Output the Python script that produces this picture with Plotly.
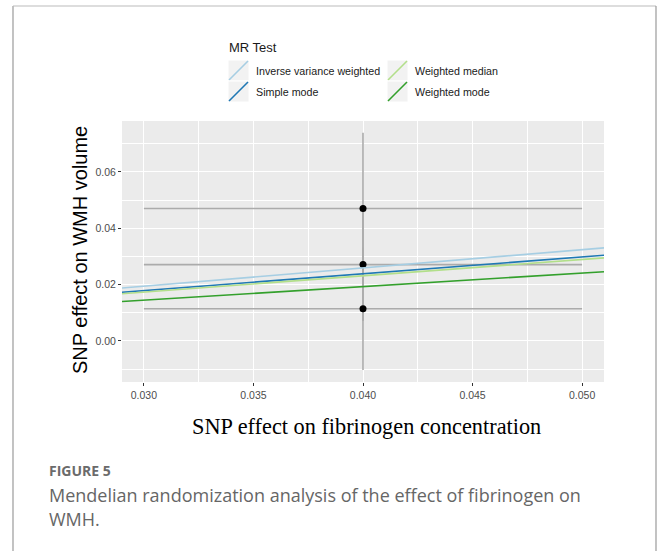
import plotly.graph_objects as go

# ---- data ----
snp_x = [0.040, 0.040, 0.040]
snp_x_se = [0.010, 0.010, 0.010]
snp_y = [0.0470, 0.0271, 0.0114]
snp_y_se = [0.0269, 0.0200, 0.0217]

methods = ["Inverse variance weighted", "Simple mode", "Weighted median", "Weighted mode"]
slopes = [0.648, 0.596, 0.578, 0.482]
colors = ["#A6CEE3", "#1F78B4", "#B2DF8A", "#33A02C"]

x_range = [0.029, 0.051]
y_range = [-0.0146, 0.0781]
x_ticks = [0.030, 0.035, 0.040, 0.045, 0.050]
x_ticklabels = ["0.030", "0.035", "0.040", "0.045", "0.050"]
y_ticks = [0.00, 0.02, 0.04, 0.06]
y_ticklabels = ["0.00", "0.02", "0.04", "0.06"]

W, H = 657, 551
def px(x): return x / W
def py(y): return 1 - y / H

fig = go.Figure()

# error bars + points
fig.add_trace(go.Scatter(
    x=snp_x, y=snp_y, mode="markers",
    marker=dict(color="black", size=7),
    error_x=dict(type="data", array=snp_x_se, color="#ABABAB", thickness=1.6, width=0),
    error_y=dict(type="data", array=snp_y_se, color="#ABABAB", thickness=1.6, width=0),
    showlegend=False, hoverinfo="skip", cliponaxis=False,
))

# MR lines through origin
for m, s, c in zip(methods, slopes, colors):
    fig.add_trace(go.Scatter(
        x=x_range, y=[s * x_range[0], s * x_range[1]], mode="lines",
        line=dict(color=c, width=1.6), name=m, showlegend=False,
    ))

shapes = []
annotations = []

# frame (open at bottom)
fc = "#9A9A9A"
shapes += [
    dict(type="line", xref="paper", yref="paper", x0=px(13), x1=px(13), y0=0, y1=py(6), line=dict(color=fc, width=1.2)),
    dict(type="line", xref="paper", yref="paper", x0=px(13), x1=px(656), y0=py(6), y1=py(6), line=dict(color="#BBBBBB", width=1.2)),
    dict(type="line", xref="paper", yref="paper", x0=px(656), x1=px(656), y0=0, y1=py(6), line=dict(color=fc, width=1.2)),
]

# manual legend
annotations.append(dict(text="MR Test", x=px(227), y=py(47), xref="paper", yref="paper",
                        xanchor="left", yanchor="middle", showarrow=False,
                        font=dict(family="Liberation Sans, Arial", size=13, color="#1A1A1A")))
key_pos = [(228, 60), (228, 81), (387, 60), (387, 81)]
for (kx, ky), m, c in zip(key_pos, methods, colors):
    shapes.append(dict(type="rect", xref="paper", yref="paper",
                       x0=px(kx), x1=px(kx + 21), y0=py(ky + 21), y1=py(ky),
                       fillcolor="#F2F2F2", line=dict(color="white", width=1)))
    shapes.append(dict(type="line", xref="paper", yref="paper",
                       x0=px(kx + 1), x1=px(kx + 20), y0=py(ky + 20), y1=py(ky + 1),
                       line=dict(color=c, width=1.6)))
    annotations.append(dict(text=m, x=px(kx + 26), y=py(ky + 11), xref="paper", yref="paper",
                            xanchor="left", yanchor="middle", showarrow=False,
                            font=dict(family="Liberation Sans, Arial", size=10.7, color="#1A1A1A")))

# axis titles
annotations.append(dict(text="SNP effect on WMH volume", x=px(80), y=py(250), xref="paper", yref="paper",
                        textangle=-90, showarrow=False, xanchor="center", yanchor="middle",
                        font=dict(family="Liberation Sans, Arial", size=20, color="black")))
annotations.append(dict(text="SNP effect on fibrinogen concentration", x=px(366), y=py(426),
                        xref="paper", yref="paper", showarrow=False, xanchor="center", yanchor="middle",
                        font=dict(family="Liberation Serif, Times New Roman", size=22.3, color="black")))

# caption
annotations.append(dict(text="<b>FIGURE 5</b>", x=px(47), y=py(470), xref="paper", yref="paper",
                        showarrow=False, xanchor="left", yanchor="middle",
                        font=dict(family="Open Sans", size=14, color="#6B6B6B")))
annotations.append(dict(text="Mendelian randomization analysis of the effect of fibrinogen on",
                        x=px(47), y=py(495), xref="paper", yref="paper",
                        showarrow=False, xanchor="left", yanchor="middle",
                        font=dict(family="Open Sans", size=18, color="#666666")))
annotations.append(dict(text="WMH.", x=px(47), y=py(519), xref="paper", yref="paper",
                        showarrow=False, xanchor="left", yanchor="middle",
                        font=dict(family="Open Sans", size=18, color="#666666")))

tickfont = dict(family="Liberation Sans, Arial", size=10.5, color="#4D4D4D")
fig.update_layout(
    width=W, height=H, margin=dict(l=0, r=0, t=0, b=0),
    paper_bgcolor="white", plot_bgcolor="#EBEBEB",
    shapes=shapes, annotations=annotations, showlegend=False,
    xaxis=dict(domain=[px(122), px(604)], range=x_range, tickmode="array",
               tickvals=x_ticks, ticktext=x_ticklabels, ticks="outside", ticklen=3,
               tickcolor="#333333", tickwidth=1, tickfont=tickfont,
               showgrid=True, gridcolor="white", gridwidth=1.2, zeroline=False, showline=False,
               minor=dict(tickmode="array", tickvals=[0.0275, 0.0325, 0.0375, 0.0425, 0.0475],
                          showgrid=True, gridcolor="white", gridwidth=0.6, ticks="")),
    yaxis=dict(domain=[py(382), py(121)], range=y_range, tickmode="array",
               tickvals=y_ticks, ticktext=y_ticklabels, ticks="outside", ticklen=3,
               tickcolor="#333333", tickwidth=1, tickfont=tickfont,
               showgrid=True, gridcolor="white", gridwidth=1.2, zeroline=False, showline=False,
               minor=dict(tickmode="array", tickvals=[-0.01, 0.01, 0.03, 0.05, 0.07],
                          showgrid=True, gridcolor="white", gridwidth=0.6, ticks="")),
)

fig.write_html("out.html", config={"displayModeBar": False},
               post_script="document.body.style.margin='0';")
